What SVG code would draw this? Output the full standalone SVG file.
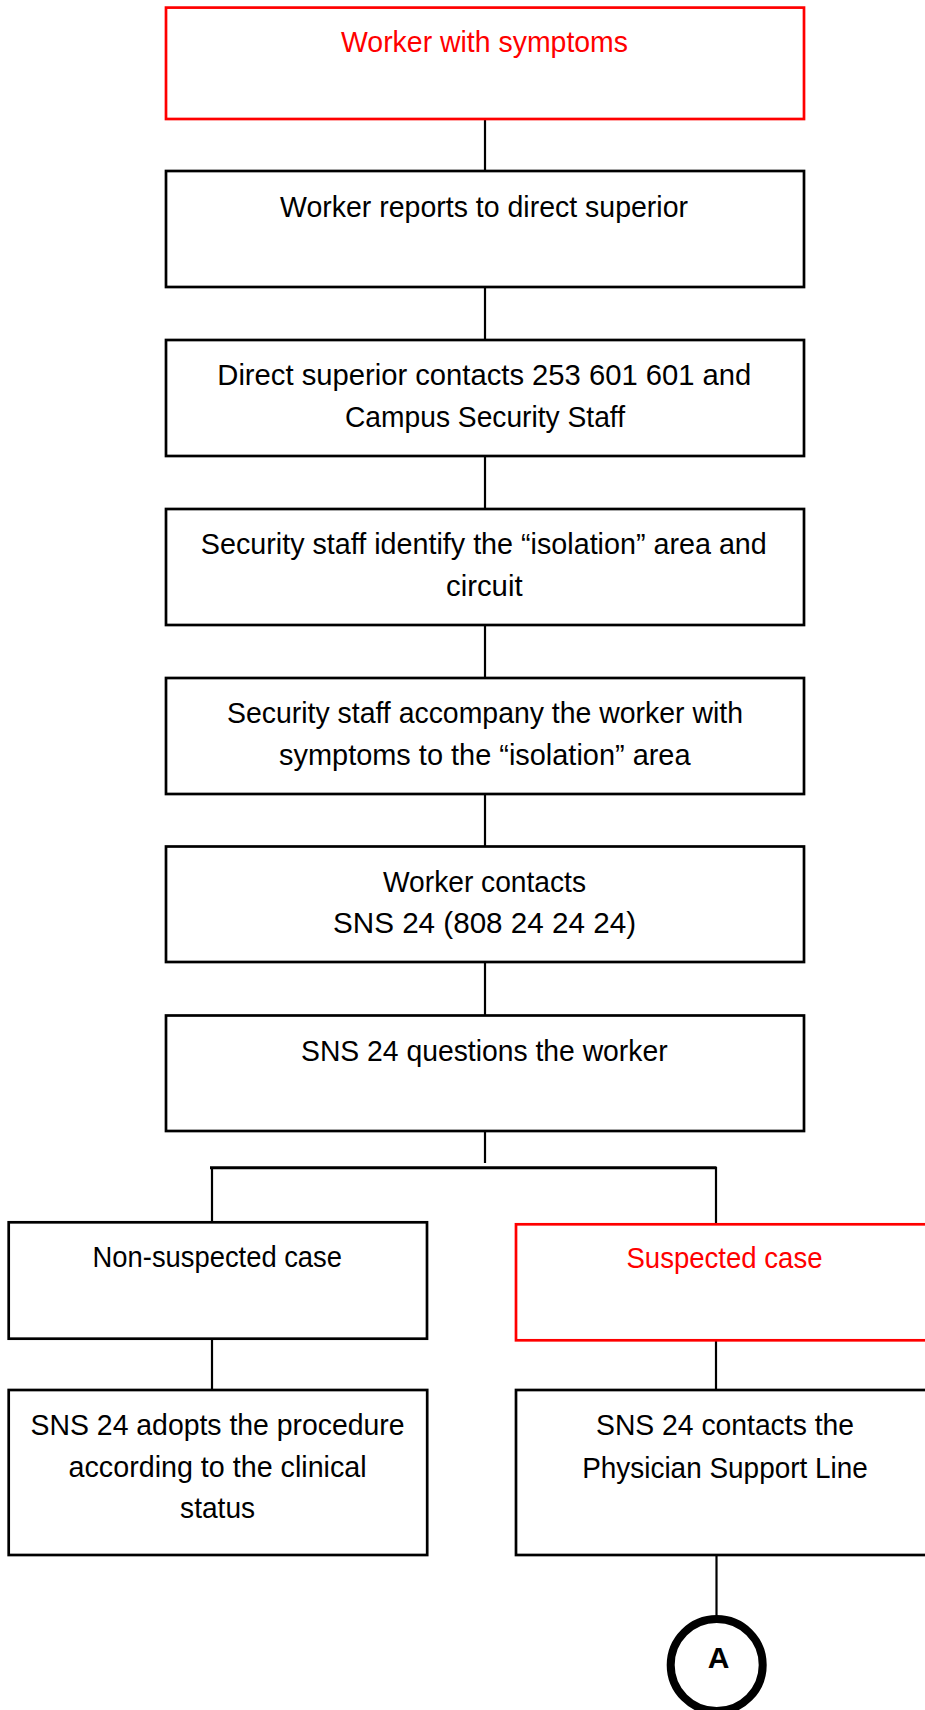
<svg xmlns="http://www.w3.org/2000/svg" width="925" height="1710" viewBox="0 0 925 1710">
<style>
.box{fill:#fff;stroke:#000;stroke-width:2.7}
.red{fill:#fff;stroke:#ff0000;stroke-width:2.7}
.t{font-family:"Liberation Sans",Arial,sans-serif;font-size:30px;fill:#000;text-anchor:middle}
.tr{font-family:"Liberation Sans",Arial,sans-serif;font-size:30px;fill:#ff0000;text-anchor:middle}
.c{stroke:#000;stroke-width:2.2;fill:none}
</style>
<rect width="925" height="1710" fill="#fff"/>
<g id="connectors">
<line class="c" x1="485" y1="119" x2="485" y2="171"/>
<line class="c" x1="485" y1="287" x2="485" y2="340"/>
<line class="c" x1="485" y1="456" x2="485" y2="509"/>
<line class="c" x1="485" y1="625" x2="485" y2="678"/>
<line class="c" x1="485" y1="794" x2="485" y2="846.5"/>
<line class="c" x1="485" y1="962" x2="485" y2="1015.5"/>
<line class="c" x1="485" y1="1131" x2="485" y2="1163"/>
<line x1="210" y1="1167.7" x2="716.5" y2="1167.7" stroke="#000" stroke-width="3"/>
<line class="c" x1="212" y1="1167" x2="212" y2="1222"/>
<line class="c" x1="716" y1="1167" x2="716" y2="1224"/>
<line class="c" x1="212" y1="1339" x2="212" y2="1390"/>
<line class="c" x1="716" y1="1340" x2="716" y2="1390"/>
<line class="c" x1="716.5" y1="1555" x2="716.5" y2="1616"/>
</g>
<g id="n1">
<rect class="red" x="166" y="7.6" width="638" height="111.4"/>
<text class="tr" x="484.5" y="52" textLength="287" lengthAdjust="spacingAndGlyphs">Worker with symptoms</text>
</g>
<g id="n2">
<rect class="box" x="166" y="171" width="638" height="116"/>
<text class="t" x="484" y="216.5" textLength="408" lengthAdjust="spacingAndGlyphs">Worker reports to direct superior</text>
</g>
<g id="n3">
<rect class="box" x="166" y="340" width="638" height="116"/>
<text class="t" x="484.3" y="385" textLength="534" lengthAdjust="spacingAndGlyphs">Direct superior contacts 253 601 601 and</text>
<text class="t" x="485" y="426.5" textLength="280" lengthAdjust="spacingAndGlyphs">Campus Security Staff</text>
</g>
<g id="n4">
<rect class="box" x="166" y="509" width="638" height="116"/>
<text class="t" x="483.8" y="554" textLength="566" lengthAdjust="spacingAndGlyphs">Security staff identify the “isolation” area and</text>
<text class="t" x="484.3" y="595.5" textLength="76.5" lengthAdjust="spacingAndGlyphs">circuit</text>
</g>
<g id="n5">
<rect class="box" x="166" y="678" width="638" height="116"/>
<text class="t" x="485" y="723" textLength="516" lengthAdjust="spacingAndGlyphs">Security staff accompany the worker with</text>
<text class="t" x="484.8" y="764.5" textLength="411.5" lengthAdjust="spacingAndGlyphs">symptoms to the “isolation” area</text>
</g>
<g id="n6">
<rect class="box" x="166" y="846.5" width="638" height="115.5"/>
<text class="t" x="484.5" y="891.5" textLength="203" lengthAdjust="spacingAndGlyphs">Worker contacts</text>
<text class="t" x="484.5" y="933" textLength="303" lengthAdjust="spacingAndGlyphs">SNS 24 (808 24 24 24)</text>
</g>
<g id="n7">
<rect class="box" x="166" y="1015.5" width="638" height="115.5"/>
<text class="t" x="484.3" y="1060.5" textLength="366.6" lengthAdjust="spacingAndGlyphs">SNS 24 questions the worker</text>
</g>
<g id="n8">
<rect class="box" x="8.7" y="1222.3" width="418.3" height="116.4"/>
<text class="t" x="217.3" y="1266.7" textLength="249.4" lengthAdjust="spacingAndGlyphs">Non-suspected case</text>
</g>
<g id="n9">
<rect class="red" x="516" y="1224.3" width="418" height="116"/>
<text class="tr" x="724.5" y="1268" textLength="196" lengthAdjust="spacingAndGlyphs">Suspected case</text>
</g>
<g id="n10">
<rect class="box" x="8.7" y="1390" width="418.5" height="165"/>
<text class="t" x="217.6" y="1435" textLength="374" lengthAdjust="spacingAndGlyphs">SNS 24 adopts the procedure</text>
<text class="t" x="217.6" y="1476.7" textLength="298" lengthAdjust="spacingAndGlyphs">according to the clinical</text>
<text class="t" x="217.6" y="1518.3" textLength="75" lengthAdjust="spacingAndGlyphs">status</text>
</g>
<g id="n11">
<rect class="box" x="516" y="1390" width="418" height="165"/>
<text class="t" x="725" y="1435" textLength="258" lengthAdjust="spacingAndGlyphs">SNS 24 contacts the</text>
<text class="t" x="725" y="1477.7" textLength="285.7" lengthAdjust="spacingAndGlyphs">Physician Support Line</text>
</g>
<g id="nA">
<circle cx="716.7" cy="1665" r="46" fill="#fff" stroke="#000" stroke-width="8"/>
<text x="718.5" y="1668.3" font-family="Liberation Sans, Arial, sans-serif" font-size="30" font-weight="bold" text-anchor="middle" fill="#000">A</text>
</g>
</svg>
